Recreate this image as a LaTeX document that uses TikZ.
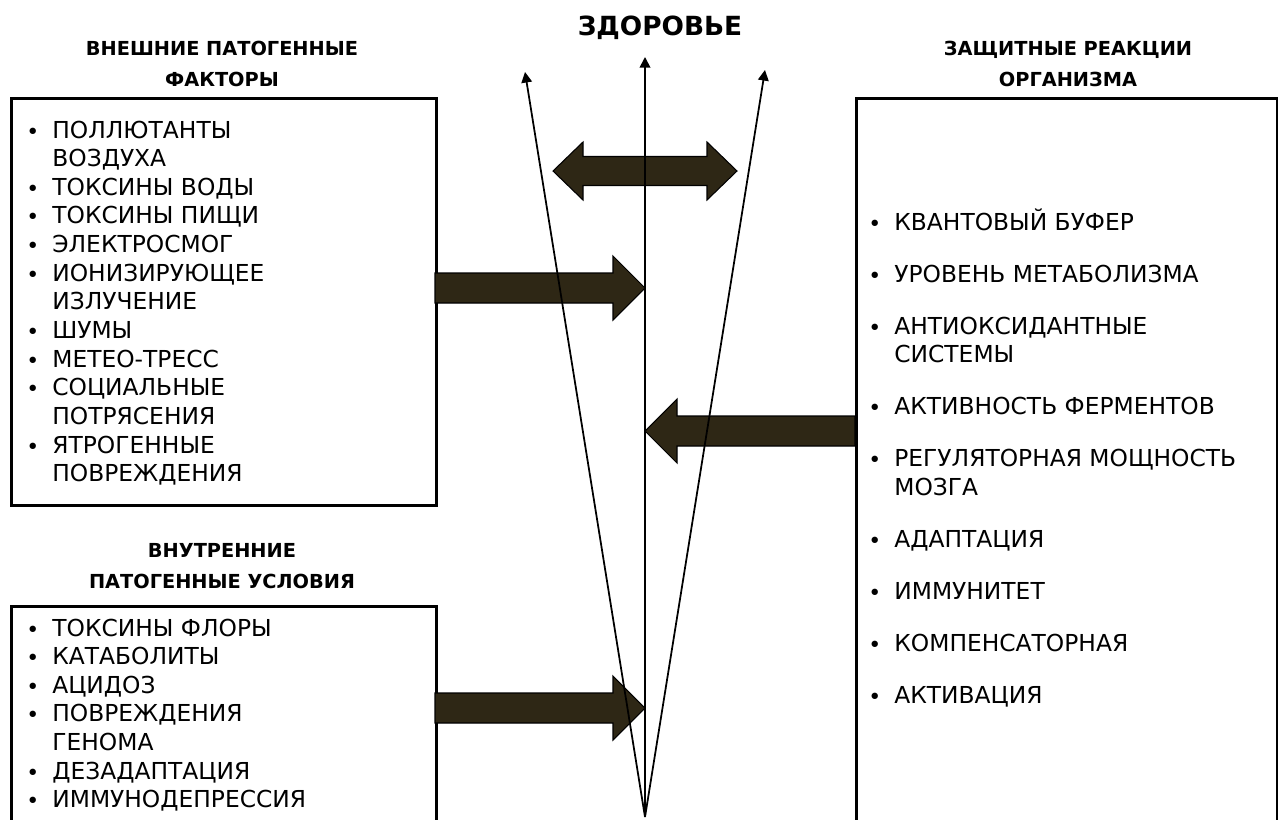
\documentclass[tikz,border=0pt]{standalone}
\usepackage{fontspec}
\setmainfont{DejaVu Sans}
\usetikzlibrary{arrows.meta,calc}
\definecolor{arrowbrown}{HTML}{2E2715}
\tikzset{
	box/.style={draw, line width=1.6pt, inner sep=0pt, anchor=north west},
	head/.style={font=\bfseries\fontsize{11}{18}\selectfont, align=center},
	list/.style={inner sep=0pt, anchor=base west, font=\fontsize{13.3}{16.3}\selectfont},
	axis/.style={line width=1pt, -{Triangle[length=6pt,width=6pt]}},
	fatarrow/.style={fill=arrowbrown, draw=black, line width=0.6pt, line join=miter},
}
% #1 start, #2 tip, #3 direction (1 right, -1 left)
\newcommand{\fatarrow}[3]{%
	\draw[fatarrow] ($(#1)+(0,-15)$) -- ($(#2)+({-32*(#3)},-15)$) -- ($(#2)+({-32*(#3)},-32)$) -- (#2)
		-- ($(#2)+({-32*(#3)},32)$) -- ($(#2)+({-32*(#3)},15)$) -- ($(#1)+(0,15)$) -- cycle;}
\newcommand{\itm}{\makebox[14.8pt][l]{\raisebox{-0.6pt}{\fontsize{12.5}{12.5}\selectfont •}}}
\begin{document}
\begin{tikzpicture}[x=0.02cm, y=-0.02cm]
	\useasboundingbox (0,0) rectangle (1278,819);
	\clip (0,0) rectangle (1278,819);
	% boxes
	\node (ext) [box, minimum width=8.5cm, minimum height=8.14cm] at (10,97) {};
	\node (int) [box, minimum width=8.5cm, minimum height=4.8cm] at (10,605) {};
	\node (def) [box, minimum width=8.42cm, minimum height=15cm] at (855,97) {};
	% axis
	\coordinate (apex) at (645,817);
	\coordinate (ctop) at (645,57);
	\coordinate (ltop) at (525,72);
	\coordinate (rtop) at (765,70);
	% fat arrows
	\coordinate (a1s) at (435,288);
	\coordinate (a1e) at (645,288);
	\coordinate (a2s) at (435,708);
	\coordinate (a2e) at (645,708);
	\coordinate (a3s) at (855,431);
	\coordinate (a3e) at (645,431);
	\fatarrow{a1s}{a1e}{1}
	\fatarrow{a2s}{a2e}{1}
	\fatarrow{a3s}{a3e}{-1}
	\coordinate (dl) at (553,171);
	\coordinate (dr) at (737,171);
	\draw[fatarrow] (dl) -- ++(30,-29) -- ++(0,14.5) -- ($(dr)+(-30,-14.5)$) -- ($(dr)+(-30,-29)$) -- (dr)
		-- ++(-30,29) -- ++(0,-14.5) -- ($(dl)+(30,14.5)$) -- ++(0,14.5) -- cycle;
	\draw[axis] (apex) -- (ctop);
	\draw[axis] (apex) -- (ltop);
	\draw[axis] (apex) -- (rtop);
	% headings
	\node (title) [font=\bfseries\fontsize{15}{18}\selectfont] at (660,28) {ЗДОРОВЬЕ};
	\node (exth) [head] at (222,64) {ВНЕШНИЕ ПАТОГЕННЫЕ\\ФАКТОРЫ};
	\node (inth) [head] at (222,566) {ВНУТРЕННИЕ\\ПАТОГЕННЫЕ УСЛОВИЯ};
	\node (defh) [head] at (1068,64) {ЗАЩИТНЫЕ РЕАКЦИИ\\ОРГАНИЗМА};
	% lists
	\node (extl) [list] at (26,138) {\begin{tabular}[t]{@{}l@{}l@{}}
		\itm & ПОЛЛЮТАНТЫ\\
		& ВОЗДУХА\\
		\itm & ТОКСИНЫ ВОДЫ\\
		\itm & ТОКСИНЫ ПИЩИ\\
		\itm & ЭЛЕКТРОСМОГ\\
		\itm & ИОНИЗИРУЮЩЕЕ\\
		& ИЗЛУЧЕНИЕ\\
		\itm & ШУМЫ\\
		\itm & МЕТЕО-ТРЕСС\\
		\itm & СОЦИАЛЬНЫЕ\\
		& ПОТРЯСЕНИЯ\\
		\itm & ЯТРОГЕННЫЕ\\
		& ПОВРЕЖДЕНИЯ
	\end{tabular}};
	\node (intl) [list] at (26,636) {\begin{tabular}[t]{@{}l@{}l@{}}
		\itm & ТОКСИНЫ ФЛОРЫ\\
		\itm & КАТАБОЛИТЫ\\
		\itm & АЦИДОЗ\\
		\itm & ПОВРЕЖДЕНИЯ\\
		& ГЕНОМА\\
		\itm & ДЕЗАДАПТАЦИЯ\\
		\itm & ИММУНОДЕПРЕССИЯ
	\end{tabular}};
	\node (defl) [list] at (868,230) {\begin{tabular}[t]{@{}l@{}l@{}}
		\itm & КВАНТОВЫЙ БУФЕР\\[13.3pt]
		\itm & УРОВЕНЬ МЕТАБОЛИЗМА\\[13.3pt]
		\itm & АНТИОКСИДАНТНЫЕ\\
		& СИСТЕМЫ\\[13.3pt]
		\itm & АКТИВНОСТЬ ФЕРМЕНТОВ\\[13.3pt]
		\itm & РЕГУЛЯТОРНАЯ МОЩНОСТЬ\\
		& МОЗГА\\[13.3pt]
		\itm & АДАПТАЦИЯ\\[13.3pt]
		\itm & ИММУНИТЕТ\\[13.3pt]
		\itm & КОМПЕНСАТОРНАЯ\\[13.3pt]
		\itm & АКТИВАЦИЯ
	\end{tabular}};
\end{tikzpicture}
\end{document}
